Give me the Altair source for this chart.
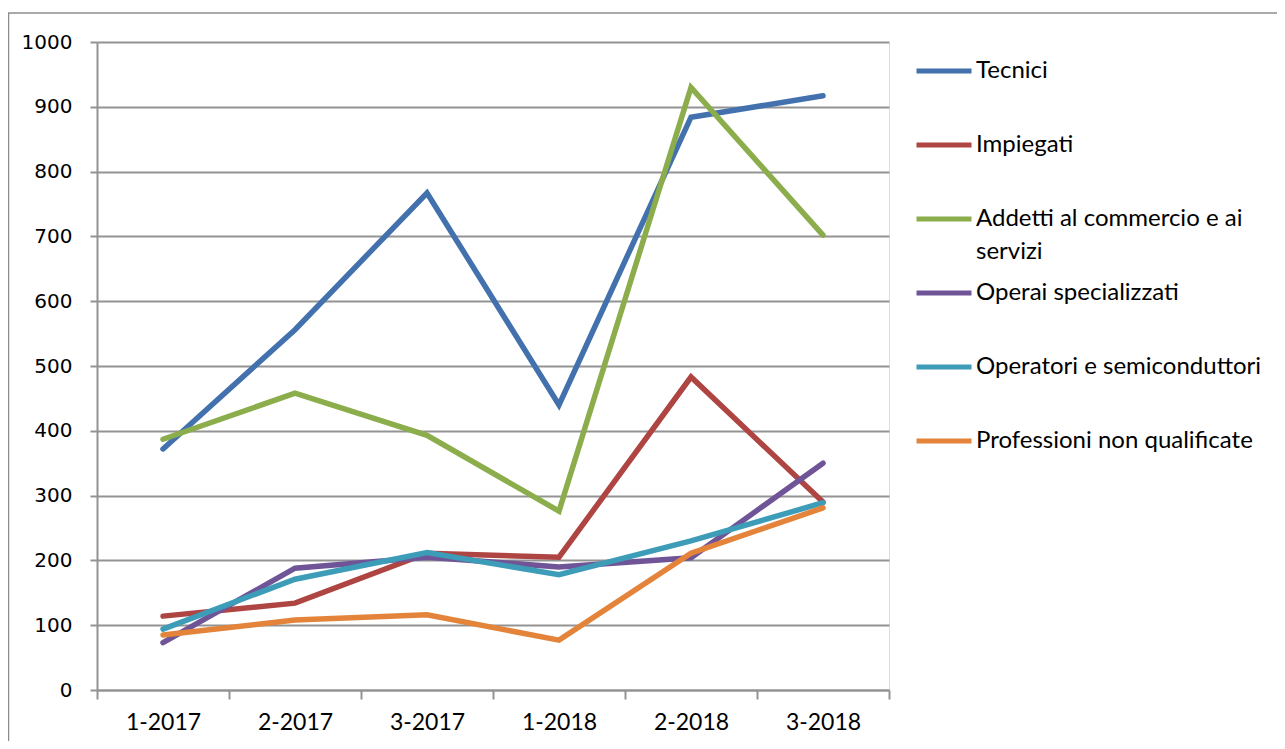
import altair as alt
import pandas as pd

categories = ["1-2017", "2-2017", "3-2017", "1-2018", "2-2018", "3-2018"]
series_names = [
    "Tecnici",
    "Impiegati",
    "Addetti al commercio e ai servizi",
    "Operai specializzati",
    "Operatori e semiconduttori",
    "Professioni non qualificate",
]
tecnici = [372, 556, 767, 440, 884, 917]
impiegati = [114, 134, 211, 205, 483, 290]
addetti = [387, 458, 393, 276, 930, 702]
operai = [73, 188, 205, 190, 204, 350]
operatori = [94, 171, 212, 178, 230, 289]
professioni = [85, 108, 116, 77, 211, 281]
colors = ["#4271AE", "#AE4542", "#8CAD4B", "#6F5597", "#3D9CB7", "#E3843A"]

all_values = [tecnici, impiegati, addetti, operai, operatori, professioni]
rows = []
for idx, (name, vals) in enumerate(zip(series_names, all_values)):
    for c, v in zip(categories, vals):
        rows.append({"periodo": c, "serie": name, "valore": v, "ord": idx})
df = pd.DataFrame(rows)

label_expr = ("datum.label == 'Addetti al commercio e ai servizi' ? "
              "['Addetti al commercio e ai', 'servizi'] : datum.label")

grid_col = "#939393"
frame_col = "#8c8c8c"

x_enc = alt.X(
    "periodo:N", sort=categories,
    scale=alt.Scale(type="band", paddingInner=0, paddingOuter=0),
    axis=alt.Axis(
        title=None, labelAngle=0, tickBand="extent", tickSize=9,
        labelPadding=12, labelFontSize=23, labelFont="Lato",
        labelColor="black", domainColor=grid_col, tickColor=grid_col,
        domainWidth=2, tickWidth=2, grid=False,
    ),
)
y_enc = alt.Y(
    "valore:Q",
    scale=alt.Scale(domain=[0, 1000], nice=False),
    axis=alt.Axis(
        title=None, values=list(range(0, 1001, 100)), format="d", tickSize=7,
        labelPadding=18, labelFont="DejaVu Sans", labelFontSize=20,
        labelColor="black", gridColor=grid_col, gridWidth=2,
        domainColor=grid_col, domainWidth=2, tickColor=grid_col, tickWidth=2,
    ),
)


def legend(y):
    return alt.Legend(
        title=None, orient="none", legendX=817, legendY=y,
        symbolType="stroke", symbolSize=3025, symbolStrokeWidth=5,
        labelFont="Lato", labelFontSize=24, labelOffset=2,
        rowPadding=32, labelExpr=label_expr, labelLimit=400,
        labelColor="black", padding=0,
    )


base = alt.Chart(df).mark_line(strokeWidth=5.5, strokeCap="round", strokeJoin="miter")

first = series_names[:3]
second = series_names[3:]

lines_a = base.transform_filter(
    alt.FieldOneOfPredicate(field="serie", oneOf=first)
).encode(
    x=x_enc, y=y_enc,
    color=alt.Color("serie:N", sort=first,
                    scale=alt.Scale(domain=first, range=colors[:3]),
                    legend=legend(-1)),
    order=alt.Order("ord:Q"),
)
lines_b = base.transform_filter(
    alt.FieldOneOfPredicate(field="serie", oneOf=second)
).encode(
    x=x_enc, y=y_enc,
    color=alt.Color("serie:N", sort=second,
                    scale=alt.Scale(domain=second, range=colors[3:]),
                    legend=legend(221)),
    order=alt.Order("ord:Q"),
)

frame_data = pd.DataFrame({"k": [0]})
frame_top = alt.Chart(frame_data).mark_rule(color=frame_col, strokeWidth=1.5).encode(
    x=alt.value(-89), x2=alt.value(1185), y=alt.value(-29)
)
frame_left = alt.Chart(frame_data).mark_rule(color=frame_col, strokeWidth=1.5).encode(
    x=alt.value(-88.5), y=alt.value(-29), y2=alt.value(705)
)

chart = alt.layer(frame_top, frame_left, lines_a, lines_b).resolve_scale(
    color="independent"
).properties(
    width=792, height=648,
    autosize=alt.AutoSizeParams(type="none"),
    padding={"left": 89, "top": 34, "right": 388, "bottom": 51},
).configure_view(stroke=None).configure(
    style={"guide-label": {"lineHeight": 33}}
)

chart.save("out.html", embed_options={"renderer": "svg", "actions": False})
